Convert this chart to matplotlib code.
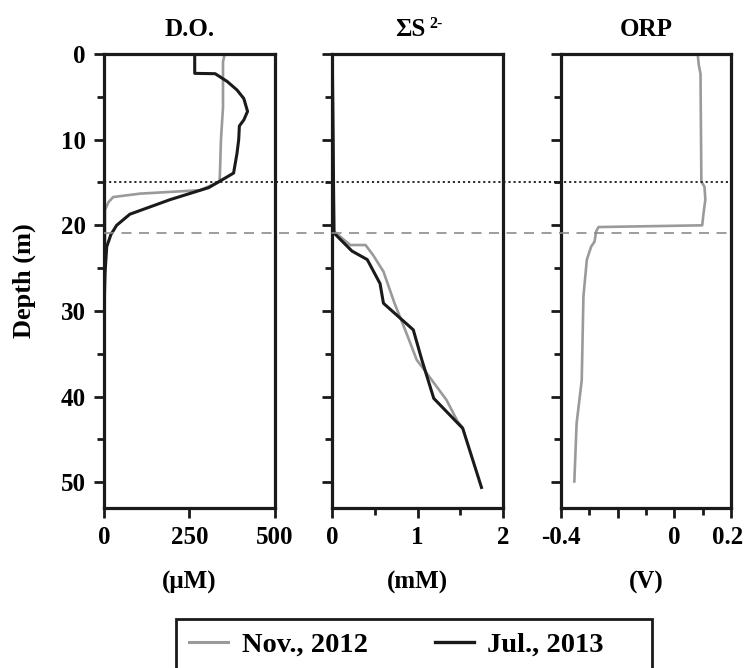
import matplotlib
matplotlib.use("Agg")
import matplotlib.pyplot as plt
import matplotlib.transforms as mtransforms
from matplotlib.lines import Line2D
from matplotlib.patches import Rectangle

plt.rcParams['font.family'] = ['Liberation Serif', 'DejaVu Serif']
plt.rcParams['font.weight'] = 'bold'
plt.rcParams['axes.unicode_minus'] = False

# ---------------- data ----------------
# D.O. (uM) vs depth (m)
do_nov_depth = [0.0, 0.9, 6.2, 10.0, 13.9, 14.9, 15.9, 16.3, 16.7, 17.3, 18.2, 22.0, 30.0, 35.0]
do_nov_value = [354, 349, 349, 343, 340, 339, 282, 106, 27, 13, 3, 3, 2, 0]
do_jul_depth = [0.0, 2.26, 2.3, 3.2, 4.2, 5.2, 6.7, 7.7, 8.4, 10.0, 11.6, 13.9, 14.7, 15.6, 17.0, 18.7, 20.0, 21.1, 22.5, 25.6, 30.0, 35.0]
do_jul_value = [266, 266, 326, 361, 390, 410, 421, 410, 397, 395, 390, 380, 346, 307, 194, 76, 37, 20, 8, 3, 0, 0]

# Sum S2- (mM) vs depth (m)
s_nov_depth = [0.0, 20.7, 22.3, 22.3, 23.5, 25.4, 29.1, 32.6, 35.7, 37.7, 40.4, 42.9, 43.5]
s_nov_value = [0.0, 0.02, 0.21, 0.39, 0.48, 0.60, 0.73, 0.87, 0.99, 1.14, 1.34, 1.47, 1.52]
s_jul_depth = [0.0, 20.9, 23.0, 24.0, 26.8, 29.1, 32.2, 35.7, 40.2, 43.7, 50.6]
s_jul_value = [0.0, 0.02, 0.23, 0.41, 0.56, 0.60, 0.95, 1.05, 1.19, 1.53, 1.75]

# ORP (V) vs depth (m), Nov. 2012 only
orp_nov_depth = [0.0, 1.3, 2.3, 14.9, 15.5, 17.0, 18.5, 20.0, 20.2, 20.7, 21.9, 22.5, 24.0, 28.3, 38.1, 43.1, 49.9]
orp_nov_value = [0.082, 0.086, 0.092, 0.095, 0.106, 0.109, 0.103, 0.098, -0.267, -0.275, -0.281, -0.293, -0.308, -0.320, -0.326, -0.344, -0.352]

# boundaries
oxycline_depth = 15.0
chemocline_depth = 20.9

titles = ['D.O.', '', 'ORP']
units = ['(\u03bcM)', '(mM)', '(V)']
series_labels = ['Nov., 2012', 'Jul., 2013']

GRAY = '#9a9a9a'
BLACK = '#1a1a1a'

W, H = 745, 668
fig = plt.figure(figsize=(W / 100, H / 100), dpi=100)

def fx(px):
    return px / W

def fy(py):
    return (H - py) / H

bottom = fy(508)
height = (508 - 54) / H
lefts = [104, 332.3, 560.7]
width = fx(170.5)
axes = [fig.add_axes([fx(l), bottom, width, height]) for l in lefts]

TICKFS = 18
for ax in axes:
    ax.set_ylim(53, 0)
    ax.set_yticks([0, 10, 20, 30, 40, 50])
    ax.set_yticks([5, 15, 25, 35, 45], minor=True)
    for s in ax.spines.values():
        s.set_linewidth(2.3)
        s.set_color(BLACK)
    ax.tick_params(which='major', direction='out', length=7, width=2.0, color=BLACK,
                   labelsize=TICKFS, pad=6)
    ax.tick_params(which='minor', direction='out', length=4.8, width=2.0, color=BLACK)

ax1, ax2, ax3 = axes

# Panel 1
ax1.plot(do_nov_value, do_nov_depth, color=GRAY, lw=1.9, solid_joinstyle='round')
ax1.plot(do_jul_value, do_jul_depth, color=BLACK, lw=2.2, solid_joinstyle='round')
ax1.set_xlim(0, 500)
ax1.set_xticks([0, 250, 500])
ax1.set_xticklabels(['0', '250', '500'], fontweight='bold')
ax1.set_yticklabels(['0', '10', '20', '30', '40', '50'], fontweight='bold')
ax1.set_ylabel('Depth (m)', fontsize=19, fontweight='bold', labelpad=18)

# Panel 2
ax2.plot(s_nov_value, s_nov_depth, color=GRAY, lw=1.9, solid_joinstyle='round')
ax2.plot(s_jul_value, s_jul_depth, color=BLACK, lw=2.2, solid_joinstyle='round')
ax2.set_xlim(0, 2)
ax2.set_xticks([0, 1, 2])
ax2.set_xticks([0.5, 1.5], minor=True)
ax2.set_xticklabels(['0', '1', '2'], fontweight='bold')
ax2.set_yticklabels([])

# Panel 3
ax3.plot(orp_nov_value, orp_nov_depth, color=GRAY, lw=1.9, solid_joinstyle='round')
ax3.set_xlim(-0.4, 0.2)
ax3.set_xticks([-0.4, -0.2, 0, 0.2])
ax3.set_xticks([-0.3, -0.1, 0.1], minor=True)
ax3.set_xticklabels(['-0.4', '', '0', '0.2'], fontweight='bold')
ax3.set_yticklabels([])

for ax, u in zip(axes, units):
    ax.set_xlabel(u, fontsize=TICKFS, fontweight='bold', labelpad=16)

TITLEFS = 18
ax1.text(0.5, 1.04, titles[0], transform=ax1.transAxes, ha='center', va='baseline',
         fontsize=TITLEFS, fontweight='bold')
ax3.text(0.5, 1.04, titles[2], transform=ax3.transAxes, ha='center', va='baseline',
         fontsize=TITLEFS, fontweight='bold')
ax2.text(0.548, 1.04, '\u03a3S', transform=ax2.transAxes, ha='right', va='baseline',
         fontsize=TITLEFS, fontweight='bold')
ax2.text(0.57, 1.058, '2-', transform=ax2.transAxes, ha='left', va='baseline',
         fontsize=11.5, fontweight='bold')

# horizontal boundary lines across all panels
trans = mtransforms.blended_transform_factory(fig.transFigure, ax1.transData)
x0, x1 = fx(lefts[0]), fx(lefts[2]) + width
fig.add_artist(Line2D([x0, x1], [oxycline_depth, oxycline_depth], transform=trans,
                      color=BLACK, lw=1.3, linestyle=(0, (1.2, 1.6)), zorder=5))
fig.add_artist(Line2D([x0, x1], [chemocline_depth, chemocline_depth], transform=trans,
                      color='#8c8c8c', lw=1.2, linestyle=(0, (6, 4.5)), zorder=5))

# legend (frame drawn separately; it runs off the bottom of the figure)
handles = [Line2D([], [], color=GRAY, lw=2.2), Line2D([], [], color=BLACK, lw=2.4)]
leg = fig.legend(handles, series_labels, loc='center left', ncol=2,
                 bbox_to_anchor=(fx(189.3), fy(645)), frameon=False,
                 prop={'family': 'Liberation Serif', 'weight': 'bold', 'size': 20.5},
                 handlelength=1.37, handletextpad=0.47, columnspacing=2.35, borderpad=0,
                 borderaxespad=0)
fig.add_artist(Rectangle((fx(175.7), fy(690)), fx(651.7 - 175.7), (690 - 619) / H,
                         transform=fig.transFigure, facecolor='none', edgecolor=BLACK,
                         lw=2.0, zorder=4))

# nudge the last ORP tick label so it stays inside the figure, as in the reference
fig.canvas.draw()
last = ax3.xaxis.get_major_ticks()[-1].label1
last.set_transform(last.get_transform() +
                   mtransforms.ScaledTranslation(-0.04, 0, fig.dpi_scale_trans))

fig.savefig('out.png', dpi=100)
